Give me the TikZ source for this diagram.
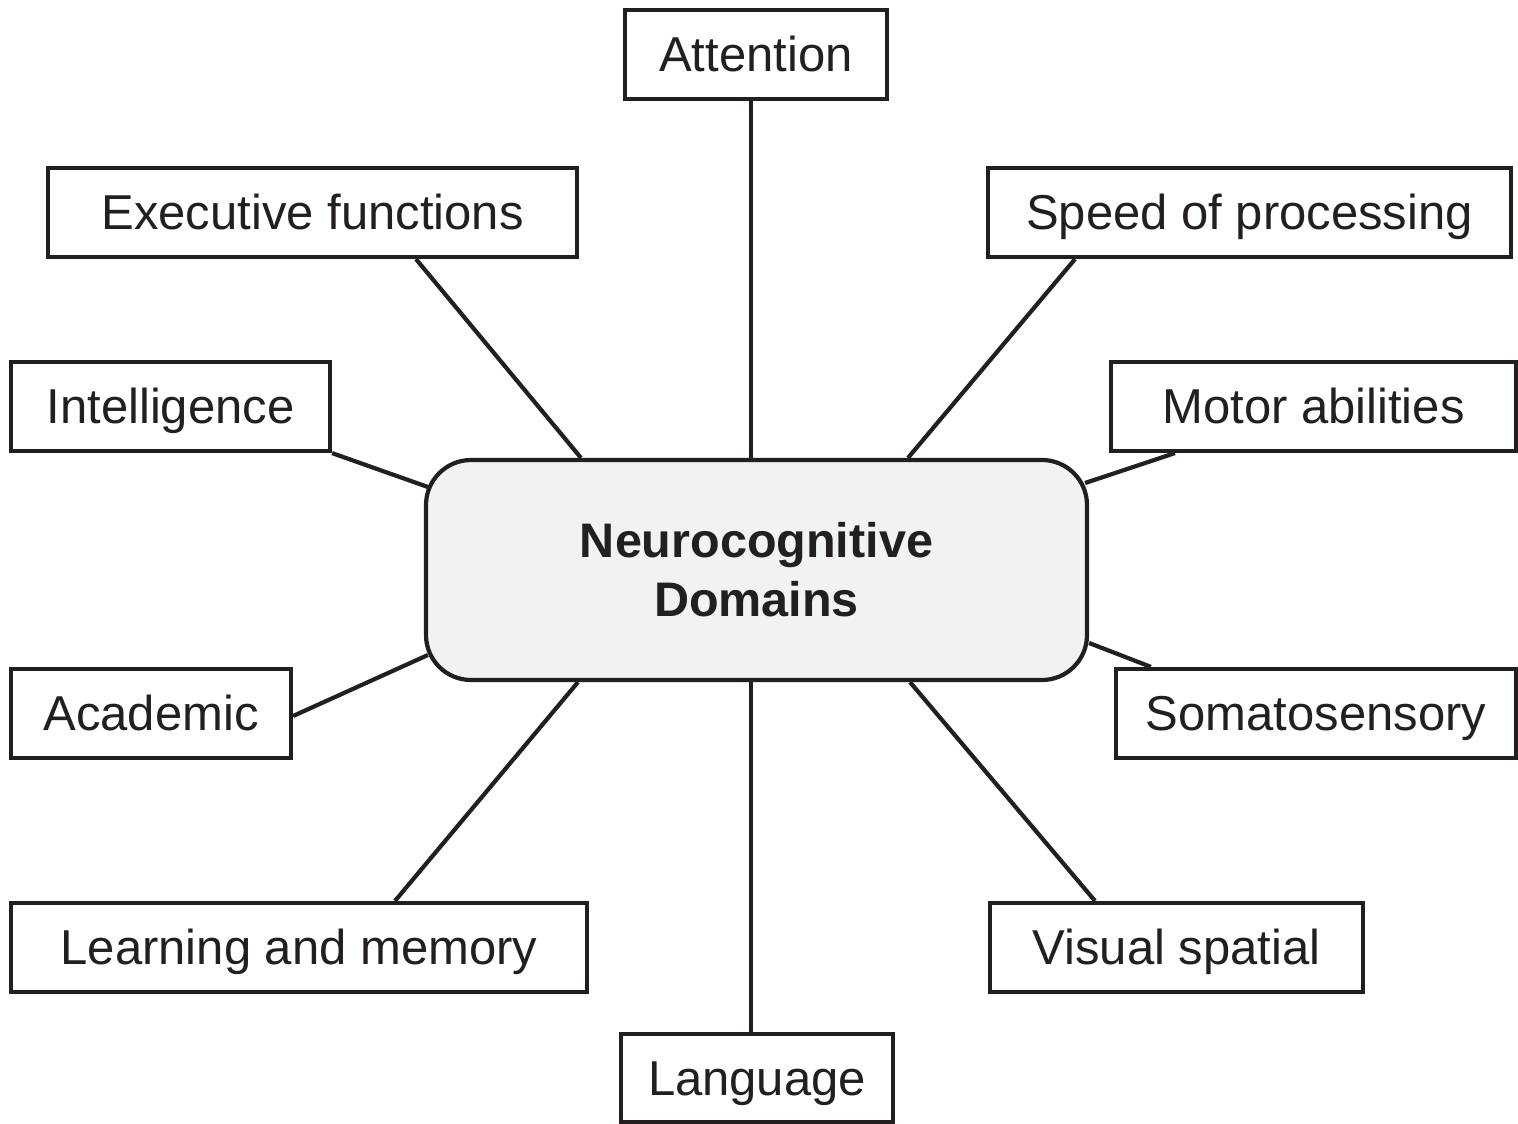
\documentclass[tikz,border=0pt]{standalone}
\usepackage{fontspec}
\setmainfont{Liberation Sans}
\definecolor{ink}{HTML}{231F20}
\definecolor{ctrfill}{HTML}{F2F2F2}
\pgfdeclarelayer{bg}
\pgfsetlayers{bg,main}
\begin{document}
\begin{tikzpicture}[x=1pt,y=-1pt,
  dombox/.style={draw=ink,line width=4.2pt,fill=white,inner sep=0pt,
    minimum height=89pt,text=ink,text height=34pt,text depth=0pt,
    font=\fontsize{49}{59}\selectfont},
  ctrbox/.style={draw=ink,line width=4.2pt,fill=ctrfill,rounded corners=45pt,
    inner sep=0pt,minimum width=661pt,minimum height=220pt,align=center,
    text=ink,font=\fontsize{48.5}{59}\selectfont\bfseries},
  conn/.style={draw=ink,line width=4.2pt}]
\useasboundingbox (0,0) rectangle (1518,1124);
\node[ctrbox] (ctr) at (756.5,570) {Neurocognitive\\Domains};
\node[dombox,minimum width=262pt] (att) at (756,54.5) {Attention};
\node[dombox,minimum width=529pt] (exec) at (312.5,212.5) {Executive functions};
\node[dombox,minimum width=523pt] (speed) at (1249.5,212.5) {Speed of processing};
\node[dombox,minimum width=319pt] (intel) at (170.5,406.5) {Intelligence};
\node[dombox,minimum width=405pt] (motor) at (1313.5,406.5) {Motor abilities};
\node[dombox,minimum width=280pt] (acad) at (151,713.5) {Academic};
\node[dombox,minimum width=400pt] (soma) at (1316,713.5) {Somatosensory};
\node[dombox,minimum width=576pt] (learn) at (299,947.5) {Learning and memory};
\node[dombox,minimum width=373pt] (vis) at (1176.5,947.5) {Visual spatial};
\node[dombox,minimum width=272pt,minimum height=88pt] (lang) at (757,1078) {Language};
\begin{pgfonlayer}{bg}
\draw[conn] ([xshift=-5pt]att.south) -- ([xshift=-5.5pt]ctr.north);
\draw[conn] ([xshift=103.5pt]exec.south) -- ([xshift=-175.5pt]ctr.north);
\draw[conn] ([xshift=-174.5pt]speed.south) -- ([xshift=151.5pt]ctr.north);
\draw[conn] (intel.south east) -- ([xshift=4pt,yshift=83pt]ctr.west);
\draw[conn] ([xshift=66pt]motor.south west) -- ([xshift=-4pt,yshift=87pt]ctr.east);
\draw[conn] ([yshift=-2.5pt]acad.east) -- ([xshift=4pt,yshift=-85pt]ctr.west);
\draw[conn] ([xshift=37pt]soma.north west) -- ([xshift=0pt,yshift=-73pt]ctr.east);
\draw[conn] ([xshift=96pt]learn.north) -- ([xshift=-178.5pt]ctr.south);
\draw[conn] ([xshift=-81.5pt]vis.north) -- ([xshift=153.5pt]ctr.south);
\draw[conn] ([xshift=-6pt]lang.north) -- ([xshift=-5.5pt]ctr.south);
\end{pgfonlayer}
\end{tikzpicture}
\end{document}
